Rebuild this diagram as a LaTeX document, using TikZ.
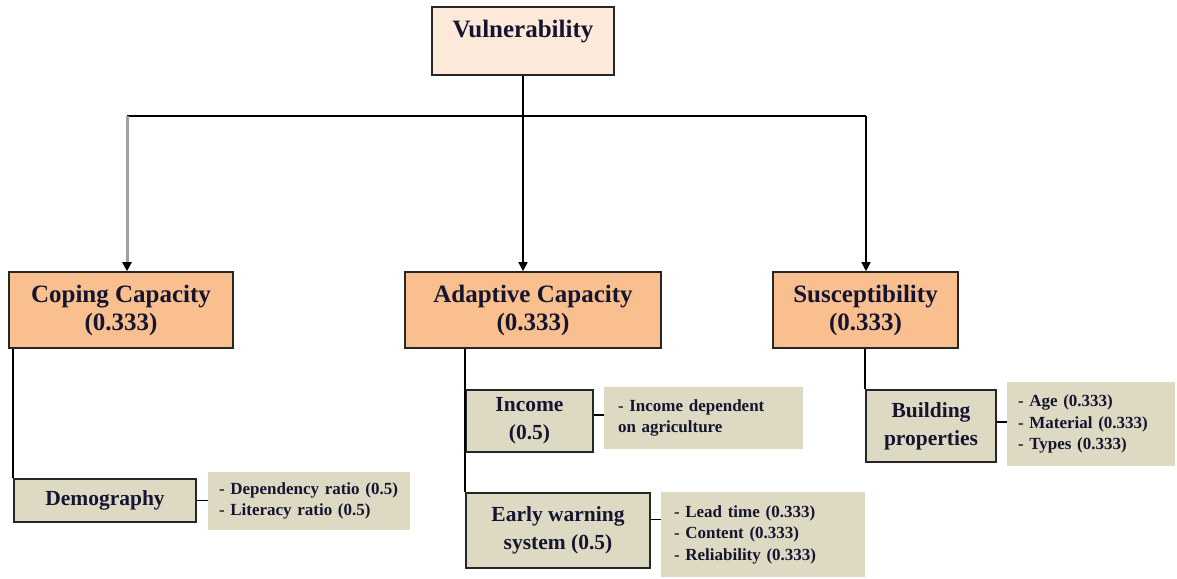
\documentclass[tikz,border=0pt]{standalone}
\usepackage{fontspec}
\setmainfont{Liberation Serif}
\usetikzlibrary{arrows.meta}
\definecolor{vfill}{HTML}{FDE9DA}
\definecolor{ofill}{HTML}{F9BF8F}
\definecolor{tfill}{HTML}{DDD9C3}
\definecolor{txt}{HTML}{151530}
\definecolor{grayline}{HTML}{A0A0A0}
\tikzset{
  box/.style={draw=black!85, line width=1.6pt, inner sep=0pt, align=center, text=txt},
  topbox/.style={box, fill=vfill, font=\fontsize{25}{28}\selectfont\bfseries},
  mainbox/.style={box, fill=ofill, font=\fontsize{25}{28}\selectfont\bfseries},
  subbox/.style={box, fill=tfill, font=\fontsize{21.5}{28}\selectfont\bfseries},
  detbox/.style={fill=tfill, inner ysep=0pt, inner xsep=12pt, align=left, text=txt,
    font=\fontsize{17}{21.5}\selectfont\bfseries},
  conn/.style={line width=1.5pt, draw=black},
  tip/.style={-{Triangle[width=9pt,length=9pt,black]}},
}
\begin{document}
\begin{tikzpicture}[x=1pt, y=-1pt]
\useasboundingbox (0,0) rectangle (1177,578);
% top
\node[topbox, minimum width=182pt, minimum height=68pt,
  label={[text=txt, font=\fontsize{25}{28}\selectfont\bfseries, yshift=9pt]center:Vulnerability}] (vuln) at (523,41) {};
% main boxes
\node[mainbox, minimum width=224pt, minimum height=76pt] (cope) at (121,310) {Coping Capacity\\(0.333)};
\node[mainbox, minimum width=256pt, minimum height=76pt] (adapt) at (533,310) {Adaptive Capacity\\(0.333)};
\node[mainbox, minimum width=185pt, minimum height=76pt] (susc) at (865.5,310) {Susceptibility\\(0.333)};
% sub boxes
\node[subbox, minimum width=182pt, minimum height=43pt] (demo) at (105,500.5) {Demography};
\node[subbox, minimum width=127pt, minimum height=62pt] (inc) at (529.5,421) {Income\\(0.5)};
\node[subbox, minimum width=184pt, minimum height=75pt] (ews) at (558,530.5) {Early warning\\system (0.5)};
\node[subbox, minimum width=130pt, minimum height=72pt] (bld) at (931,426) {Building\\properties};
% detail boxes
\node[detbox, text width=180pt, minimum height=58pt, inner xsep=11pt] (demod) at (309,501) {- Dependency ratio (0.5)\\- Literacy ratio (0.5)};
\node[detbox, minimum height=62pt, inner xsep=14pt, text width=171pt] (incd) at (703.5,418) {- Income dependent\\on agriculture};
\node[detbox, text width=178pt, minimum height=85pt, inner xsep=13pt] (ewsd) at (763,534.5) {- Lead time (0.333)\\- Content (0.333)\\- Reliability (0.333)};
\node[detbox, text width=146pt, minimum height=84pt, inner xsep=11pt] (bldd) at (1091,424) {- Age (0.333)\\- Material (0.333)\\- Types (0.333)};
% junctions
\coordinate (j) at (523,116);
\coordinate (jl) at (127,116);
\coordinate (jr) at (866,116);
\draw[conn] (vuln.south -| j) -- (j);
\draw[conn] (jl) -- (jr);
\draw[line width=3pt, draw=grayline, tip] (jl) -- (jl |- cope.north);
\draw[conn, tip] (j) -- (j |- adapt.north);
\draw[conn, tip] (jr) -- (jr |- susc.north);
% vertical branches
\draw[conn] (cope.south -| demo.west) -- (demo.north west);
\draw[conn] (adapt.south -| ews.west) -- (ews.north west);
\draw[conn] (susc.south -| bld.west) -- (bld.north west);
% side connectors
\draw[conn] (demo.east) -- (demo.east -| demod.west);
\draw[conn] ([yshift=6pt]inc.east) -- ([yshift=6pt]inc.east -| incd.west);
\draw[conn] ([yshift=11pt]ews.east) -- ([yshift=11pt]ews.east -| ewsd.west);
\draw[conn] ([yshift=4pt]bld.east) -- ([yshift=4pt]bld.east -| bldd.west);
\end{tikzpicture}
\end{document}
